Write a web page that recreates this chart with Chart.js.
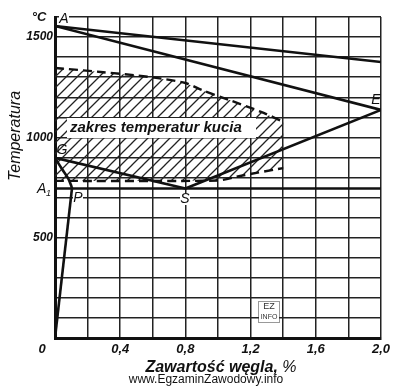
<!DOCTYPE html>
<html>
<head>
<meta charset="utf-8">
<script src="https://cdn.jsdelivr.net/npm/chart.js@4"></script>
<style>
  body { margin: 0; background: #fff; }
</style>
</head>
<body>
<canvas id="ironCarbonChart" width="400" height="386"></canvas>
<script>
// values (carbon %, temperature °C)
const xTickLabels = ['0,4', '0,8', '1,2', '1,6', '2,0'];
const yTickLabels = [500, 1000, 1500];

const liquidusX = [0, 2.0];
const liquidusY = [1555, 1376];
const solidusX = [0, 2.0];
const solidusY = [1555, 1137];
const gsX = [0, 0.8];
const gsY = [898, 745];
const seX = [0.8, 2.0];
const seY = [745, 1137];
const gpX = [0, 0.043, 0.08, 0.1, 0.104];
const gpY = [898, 842, 797, 758, 745];
const poX = [0.104, 0];
const poY = [745, 0];
const a1X = [0, 2.0];
const a1Y = [745, 745];

const forgeTopX = [0, 0.28, 0.58, 0.8, 0.9, 1.07, 1.28, 1.4];
const forgeTopY = [1346, 1326, 1301, 1271, 1236, 1186, 1122, 1077];
const forgeBottomX = [0, 1.0, 1.15, 1.4];
const forgeBottomY = [783, 785, 810, 847];

const pointLabels = [
    { text: 'A', x: 64, y: 19, clear: true },
    { text: 'E', x: 376, y: 100, clear: false },
    { text: 'G', x: 62, y: 150, clear: false },
    { text: 'P', x: 78, y: 198, clear: true },
    { text: 'S', x: 185, y: 199, clear: true }
];

function toPoints(xs, ys) {
    return xs.map((x, i) => ({ x: x, y: ys[i] }));
}

function makeHatch() {
    const c = document.createElement('canvas');
    c.width = 11;
    c.height = 11;
    const g = c.getContext('2d');
    g.strokeStyle = '#222';
    g.lineWidth = 1.3;
    g.beginPath();
    g.moveTo(-1, 12);
    g.lineTo(12, -1);
    g.moveTo(-2, 2);
    g.lineTo(2, -2);
    g.moveTo(9, 13);
    g.lineTo(13, 9);
    g.stroke();
    return g.createPattern(c, 'repeat');
}

const forgeShape = toPoints(forgeTopX, forgeTopY)
    .concat(toPoints(forgeBottomX, forgeBottomY).reverse());
forgeShape.push(forgeShape[0]);

function solidLine(xs, ys) {
    return {
        data: toPoints(xs, ys),
        showLine: true,
        borderColor: '#111',
        borderWidth: 2.6,
        pointRadius: 0,
        tension: 0,
        fill: false
    };
}

function dashedLine(xs, ys) {
    return {
        data: toPoints(xs, ys),
        showLine: true,
        borderColor: '#111',
        borderWidth: 2.4,
        borderDash: [9, 5],
        pointRadius: 0,
        tension: 0.3,
        fill: false
    };
}

const labelsPlugin = {
    id: 'diagramLabels',
    afterDatasetsDraw(chart) {
        const ctx = chart.ctx;
        ctx.save();

        // white box with the forging range caption
        ctx.fillStyle = '#fff';
        ctx.fillRect(67, 118, 189, 20);
        ctx.fillStyle = '#111';
        ctx.font = 'italic bold 15px "Liberation Sans", Arial, sans-serif';
        ctx.textBaseline = 'middle';
        ctx.textAlign = 'left';
        ctx.fillText('zakres temperatur kucia', 70, 128);

        ctx.font = 'italic 14px "Liberation Sans", Arial, sans-serif';
        ctx.textAlign = 'center';
        pointLabels.forEach(l => {
            if (l.clear) {
                ctx.fillStyle = '#fff';
                ctx.fillRect(l.x - 5, l.y - 6, 10, 12);
            }
            ctx.fillStyle = '#111';
            ctx.fillText(l.text, l.x, l.y);
        });
        ctx.restore();
    },
    afterDraw(chart) {
        const ctx = chart.ctx;
        ctx.save();
        ctx.fillStyle = '#111';
        ctx.textBaseline = 'middle';

        // A1 with subscript
        ctx.font = 'italic 14px "Liberation Sans", Arial, sans-serif';
        ctx.textAlign = 'left';
        ctx.fillText('A', 37, 189);
        ctx.font = 'italic 9px "Liberation Sans", Arial, sans-serif';
        ctx.fillText('1', 46, 193);

        ctx.font = 'italic bold 13px "Liberation Sans", Arial, sans-serif';
        ctx.textAlign = 'center';
        ctx.fillText('°C', 39, 17);

        ctx.font = 'italic bold 13px "Liberation Sans", Arial, sans-serif';
        ctx.fillText('0', 42, 349);

        // axis titles
        ctx.textAlign = 'left';
        const t1 = 'Zawartość węgla, ';
        ctx.font = 'italic 16px "Liberation Sans", Arial, sans-serif';
        const w2 = ctx.measureText('%').width;
        ctx.font = 'italic bold 16px "Liberation Sans", Arial, sans-serif';
        const w1 = ctx.measureText(t1).width;
        const start = 221 - (w1 + w2) / 2;
        ctx.fillText(t1, start, 368);
        ctx.font = 'italic 16px "Liberation Sans", Arial, sans-serif';
        ctx.fillText('%', start + w1, 368);

        ctx.font = '12px "Liberation Sans", Arial, sans-serif';
        ctx.textAlign = 'center';
        ctx.fillText('www.EgzaminZawodowy.info', 206, 380);

        ctx.translate(16, 136);
        ctx.rotate(-Math.PI / 2);
        ctx.font = 'italic 16px "Liberation Sans", Arial, sans-serif';
        ctx.fillText('Temperatura', 0, 0);
        ctx.restore();

        // small EZ INFO stamp
        ctx.save();
        ctx.strokeStyle = '#333';
        ctx.lineWidth = 1;
        ctx.setLineDash([1, 1]);
        ctx.strokeRect(258.5, 301.5, 21, 21);
        ctx.fillStyle = '#fff';
        ctx.fillRect(259, 302, 20, 20);
        ctx.fillStyle = '#333';
        ctx.font = '9px "Liberation Sans", Arial, sans-serif';
        ctx.textAlign = 'center';
        ctx.textBaseline = 'middle';
        ctx.fillText('EZ', 269, 307);
        ctx.font = '7px "Liberation Sans", Arial, sans-serif';
        ctx.fillText('INFO', 269, 317);
        ctx.restore();
    }
};

document.addEventListener('DOMContentLoaded', () => {
    const ctx = document.getElementById('ironCarbonChart').getContext('2d');
    new Chart(ctx, {
        type: 'scatter',
        data: {
            datasets: [
                solidLine(liquidusX, liquidusY),
                solidLine(solidusX, solidusY),
                solidLine(gsX, gsY),
                solidLine(seX, seY),
                Object.assign(solidLine(gpX, gpY), { tension: 0.3 }),
                solidLine(poX, poY),
                solidLine(a1X, a1Y),
                dashedLine(forgeTopX, forgeTopY),
                Object.assign(dashedLine(forgeBottomX, forgeBottomY), { tension: 0.2 }),
                {
                    data: forgeShape,
                    showLine: true,
                    borderWidth: 0,
                    borderColor: 'rgba(0,0,0,0)',
                    backgroundColor: makeHatch(),
                    pointRadius: 0,
                    tension: 0,
                    fill: 'shape',
                    order: 10
                }
            ]
        },
        options: {
            responsive: false,
            animation: false,
            layout: { padding: { top: 17, right: 19, left: 0, bottom: 0 } },
            plugins: {
                legend: { display: false },
                tooltip: { enabled: false }
            },
            scales: {
                x: {
                    type: 'linear',
                    min: 0,
                    max: 2.0,
                    afterFit: scale => { scale.height = 48; },
                    grid: { color: '#222', lineWidth: 1.5, drawTicks: false },
                    border: { color: '#111', width: 3 },
                    ticks: {
                        stepSize: 0.2,
                        padding: 4,
                        color: '#111',
                        font: { family: '"Liberation Sans", Arial, sans-serif', size: 13, style: 'italic', weight: 'bold' },
                        callback: value => {
                            const k = Math.round(value * 10);
                            if (k === 0 || k % 4 !== 0) return '';
                            return xTickLabels[k / 4 - 1];
                        }
                    }
                },
                y: {
                    type: 'linear',
                    min: 0,
                    max: 1600,
                    afterFit: scale => { scale.width = 55; },
                    grid: { color: '#222', lineWidth: 1.5, drawTicks: false },
                    border: { color: '#111', width: 3 },
                    ticks: {
                        stepSize: 100,
                        padding: 2,
                        color: '#111',
                        font: { family: '"Liberation Sans Narrow", "Liberation Sans", Arial, sans-serif', size: 12, style: 'italic', weight: 'bold' },
                        callback: value => yTickLabels.includes(value) ? String(value) : ''
                    }
                }
            }
        },
        plugins: [labelsPlugin]
    });
});
</script>
</body>
</html>
